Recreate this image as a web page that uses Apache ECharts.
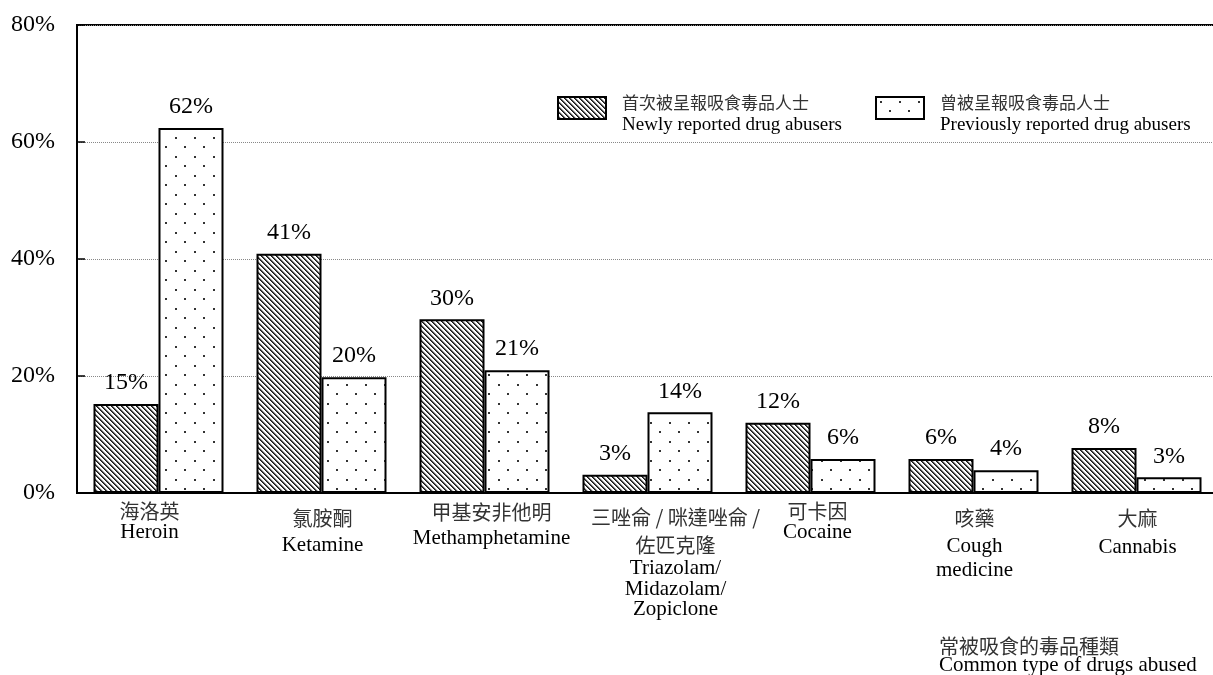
<!DOCTYPE html>
<html>
<head>
<meta charset="utf-8">
<script src="https://cdn.jsdelivr.net/npm/echarts@6/dist/echarts.min.js"></script>
<style>
html,body{margin:0;padding:0;background:#fff;overflow:hidden;}
#chart{width:1213px;height:675px;}
</style>
</head>
<body>
<div id="chart"></div>
<script>
// ---- data ----
const categoriesCn = ['海洛英', '氯胺酮', '甲基安非他明', '三唑侖 / 咪達唑侖 /\n佐匹克隆', '可卡因', '咳藥', '大麻'];
const categoriesEn = ['Heroin', 'Ketamine', 'Methamphetamine', 'Triazolam/\nMidazolam/\nZopiclone', 'Cocaine', 'Cough\nmedicine', 'Cannabis'];
const newlyReported = [15.2, 40.9, 29.7, 3.1, 12.0, 5.8, 7.7];
const previouslyReported = [62.4, 19.8, 21.0, 13.8, 5.8, 3.9, 2.7];
const seriesCn = ['首次被呈報吸食毒品人士', '曾被呈報吸食毒品人士'];
const seriesEn = ['Newly reported drug abusers', 'Previously reported drug abusers'];
const axisTitleCn = '常被吸食的毒品種類';
const axisTitleEn = 'Common type of drugs abused';
const yMin = 0, yMax = 80, yStep = 20;

// ---- styling helpers ----
const SERIF = '"Liberation Serif", "Times New Roman", "Noto Sans CJK TC", serif';
const CJK = '"Noto Sans CJK TC", "Liberation Serif", serif';

function hatchPattern() {
  const s = 5;
  const c = document.createElement('canvas');
  c.width = s; c.height = s;
  const g = c.getContext('2d');
  g.fillStyle = '#fff'; g.fillRect(0, 0, s, s);
  const shades = {0: '#1a1a1a', 1: '#4d4d4d', 2: '#c8c8c8'};
  for (let y = 0; y < s; y++) for (let x = 0; x < s; x++) {
    const k = ((x - y) % s + s) % s;
    if (shades[k]) { g.fillStyle = shades[k]; g.fillRect(x, y, 1, 1); }
  }
  return {image: c, repeat: 'repeat'};
}
function dotPattern() {
  const w = 19, h = 19;
  const c = document.createElement('canvas');
  c.width = w; c.height = h;
  const g = c.getContext('2d');
  g.fillStyle = '#fff'; g.fillRect(0, 0, w, h);
  g.fillStyle = '#333';
  g.fillRect(4, 4, 2, 2);
  g.fillRect(13, 13, 2, 2);
  return {image: c, repeat: 'repeat'};
}

// label layout per category: horizontal shift and line heights
const labelLayout = [
  {shift: -9, lh: [20, 22]},
  {shift: 1, lh: [34, 20]},
  {shift: 7, lh: [22, 30]},
  {shift: 28, lh: [32, 24, 22, 20, 20]},
  {shift: 7, lh: [20, 22]},
  {shift: 1, lh: [34, 22, 26]},
  {shift: 1, lh: [34, 24]}
];
const rich = {};
const labelStrings = categoriesCn.map((cn, i) => {
  const lines = cn.split('\n').map(t => ({t, cjk: true}))
    .concat(categoriesEn[i].split('\n').map(t => ({t, cjk: false})));
  const L = labelLayout[i];
  return lines.map((ln, j) => {
    const key = 't' + i + '_' + j;
    rich[key] = {
      fontFamily: ln.cjk ? CJK : SERIF,
      fontSize: ln.cjk ? 20 : 21,
      fontWeight: 'normal',
      color: ln.cjk ? '#333' : '#000',
      lineHeight: L.lh[j],
      padding: L.shift >= 0 ? [0, 0, 0, 2 * L.shift] : [0, -2 * L.shift, 0, 0]
    };
    return '{' + key + '|' + ln.t + '}';
  }).join('\n');
});

const legendRich = {
  c: {fontFamily: CJK, fontSize: 17, lineHeight: 21, color: '#333', fontWeight: 'normal'},
  e: {fontFamily: SERIF, fontSize: 19, lineHeight: 25, color: '#000', fontWeight: 'normal'}
};
function legendFmt(name) {
  const i = seriesCn.indexOf(name);
  return '{c|' + seriesCn[i] + '}\n{e|' + seriesEn[i] + '}';
}

const chart = echarts.init(document.getElementById('chart'));
const barStyle = (pattern) => ({color: pattern, borderColor: '#000', borderWidth: 2});
const valueLabel = {
  show: true, position: 'top', distance: 9,
  fontFamily: SERIF, fontSize: 24, color: '#000',
  formatter: p => Math.round(p.value) + '%'
};

chart.setOption({
  backgroundColor: '#fff',
  animation: false,
  title: {
    text: '{c|' + axisTitleCn + '}\n{e|' + axisTitleEn + '}',
    left: 939, top: 636, padding: 0,
    textStyle: {
      fontWeight: 'normal',
      rich: {
        c: {fontFamily: CJK, fontSize: 20, lineHeight: 20, color: '#333', fontWeight: 'normal'},
        e: {fontFamily: SERIF, fontSize: 21, lineHeight: 18, color: '#000', fontWeight: 'normal'}
      }
    }
  },
  legend: [
    {
      data: [seriesCn[0]], left: 557, top: 94, padding: 0,
      itemWidth: 48, itemHeight: 22, icon: 'rect',
      formatter: legendFmt,
      textStyle: {padding: [14, 0, 0, 11], rich: legendRich}
    },
    {
      data: [seriesCn[1]], left: 875, top: 94, padding: 0,
      itemWidth: 48, itemHeight: 22, icon: 'rect',
      formatter: legendFmt,
      textStyle: {padding: [14, 0, 0, 11], rich: legendRich}
    }
  ],
  grid: {
    left: 77, top: 25, width: 1141, bottom: 182,
    outerBoundsMode: 'none', containLabel: false,
    show: true, borderColor: '#000', borderWidth: 2, backgroundColor: 'transparent'
  },
  xAxis: {
    type: 'category',
    data: categoriesCn,
    axisLine: {lineStyle: {color: '#000', width: 2}},
    axisTick: {show: false},
    axisLabel: {
      interval: 0, margin: 8,
      formatter: (v, i) => labelStrings[i],
      rich: rich
    }
  },
  yAxis: {
    type: 'value', min: yMin, max: yMax, interval: yStep,
    axisLine: {show: true, lineStyle: {color: '#000', width: 2}},
    axisTick: {show: true, inside: true, length: 8, lineStyle: {color: '#000', width: 1.5}},
    axisLabel: {
      formatter: '{value}%', margin: 22,
      fontFamily: SERIF, fontSize: 24, color: '#000'
    },
    splitLine: {show: true, lineStyle: {color: '#888', width: 1, type: [1, 1]}}
  },
  series: [
    {
      name: seriesCn[0], type: 'bar', data: newlyReported,
      barWidth: 65, barGap: '0%',
      itemStyle: barStyle(hatchPattern()),
      label: valueLabel
    },
    {
      name: seriesCn[1], type: 'bar', data: previouslyReported,
      barWidth: 65, barGap: '0%',
      itemStyle: barStyle(dotPattern()),
      label: valueLabel
    }
  ]
});
</script>
</body>
</html>
